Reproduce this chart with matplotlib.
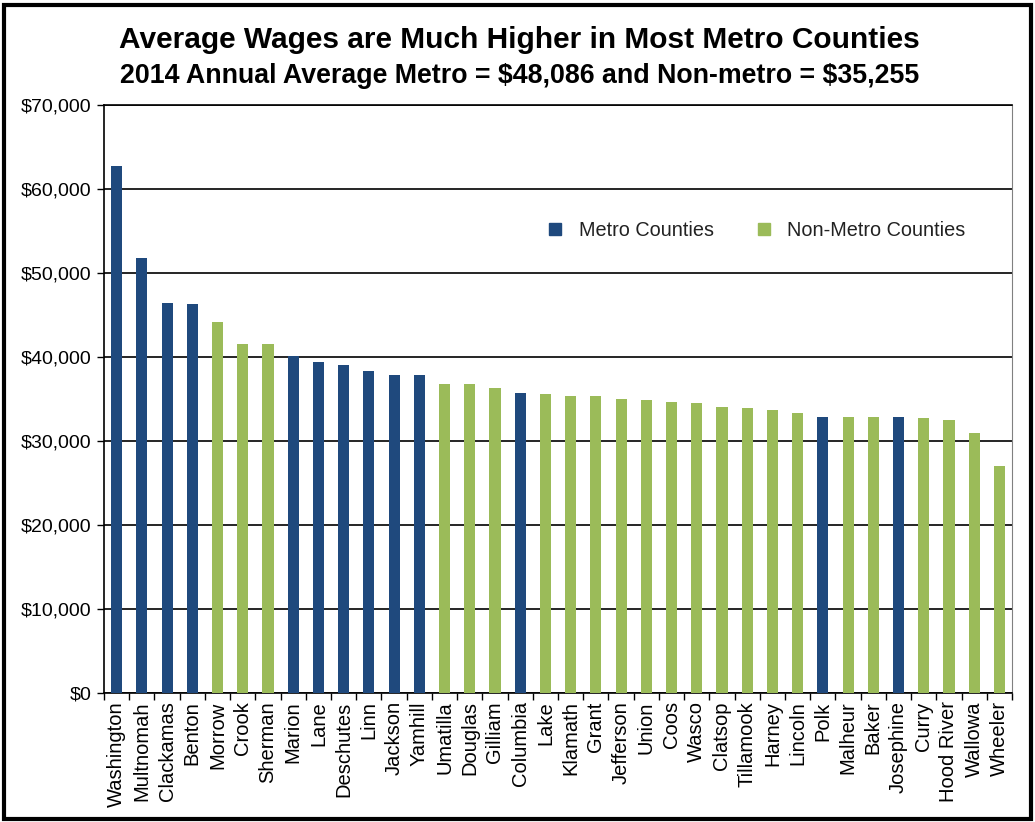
import numpy as np
import matplotlib
matplotlib.use("Agg")
import matplotlib.pyplot as plt
from matplotlib.patches import Rectangle
from matplotlib.lines import Line2D

# county average annual wages 2014
counties = ["Washington", "Multnomah", "Clackamas", "Benton", "Morrow", "Crook",
            "Sherman", "Marion", "Lane", "Deschutes", "Linn", "Jackson", "Yamhill",
            "Umatilla", "Douglas", "Gilliam", "Columbia", "Lake", "Klamath", "Grant",
            "Jefferson", "Union", "Coos", "Wasco", "Clatsop", "Tillamook", "Harney",
            "Lincoln", "Polk", "Malheur", "Baker", "Josephine", "Curry", "Hood River",
            "Wallowa", "Wheeler"]
wages = [62700, 51750, 46400, 46300, 44200, 41500,
         41500, 40100, 39400, 39000, 38300, 37900, 37800,
         36750, 36750, 36300, 35700, 35600, 35400, 35400,
         34950, 34850, 34700, 34500, 34100, 33900, 33700,
         33300, 32900, 32900, 32900, 32800, 32700, 32450,
         30900, 27000]
metro = ["Washington", "Multnomah", "Clackamas", "Benton", "Marion", "Lane",
         "Deschutes", "Linn", "Jackson", "Yamhill", "Columbia", "Polk", "Josephine"]

navy = "#1F497D"
green = "#9BBB59"
colors = [navy if c in metro else green for c in counties]

plt.rcParams['font.family'] = ['Liberation Sans', 'DejaVu Sans']

fig = plt.figure(figsize=(10.35, 8.22), dpi=100)
ax = fig.add_axes([0.1005, 0.1569, 0.8773, 0.7154])

x = np.arange(len(counties))
ax.bar(x, wages, width=0.44, color=colors, zorder=3)

ax.set_xlim(-0.5, len(counties) - 0.5)
ax.set_ylim(0, 70000)
ax.set_yticks(np.arange(0, 70001, 10000))
ax.set_yticklabels(["\\${:,.0f}".format(v) for v in np.arange(0, 70001, 10000)], fontsize=14)
ax.set_xticks(x)
ax.set_xticklabels(counties, rotation=90, fontsize=14.5)
ax.set_xticks(np.arange(-0.5, len(counties), 1), minor=True)
ax.tick_params(axis='x', which='major', length=0, pad=6)
ax.tick_params(axis='x', which='minor', length=5, width=1, direction='out')
ax.tick_params(axis='y', length=5, width=1, pad=4)
ax.grid(axis='y', color='black', linewidth=1.2, zorder=1)
for s in ['left', 'bottom', 'top']:
    ax.spines[s].set_linewidth(1.2)
ax.spines['right'].set_color('#808080')

handles = [Line2D([], [], marker='s', linestyle='', markersize=8, color=navy),
           Line2D([], [], marker='s', linestyle='', markersize=8, color=green)]
ax.legend(handles, ["Metro Counties", "Non-Metro Counties"], ncol=2, frameon=False,
          loc='center', bbox_to_anchor=(0.712, 0.786), fontsize=14.3,
          handletextpad=0.2, columnspacing=1.5, labelcolor='#222222')

fig.text(0.502, 0.951, "Average Wages are Much Higher in Most Metro Counties",
         ha='center', va='center', fontsize=21.5, fontweight='bold')
fig.text(0.502, 0.908, "2014 Annual Average Metro = \\$48,086 and Non-metro = \\$35,255",
         ha='center', va='center', fontsize=19.3, fontweight='bold')

fig.patches.append(Rectangle((0.004, 0.004), 0.992, 0.99, transform=fig.transFigure,
                             fill=False, edgecolor='black', linewidth=3))

fig.savefig("out.png", dpi=100)
